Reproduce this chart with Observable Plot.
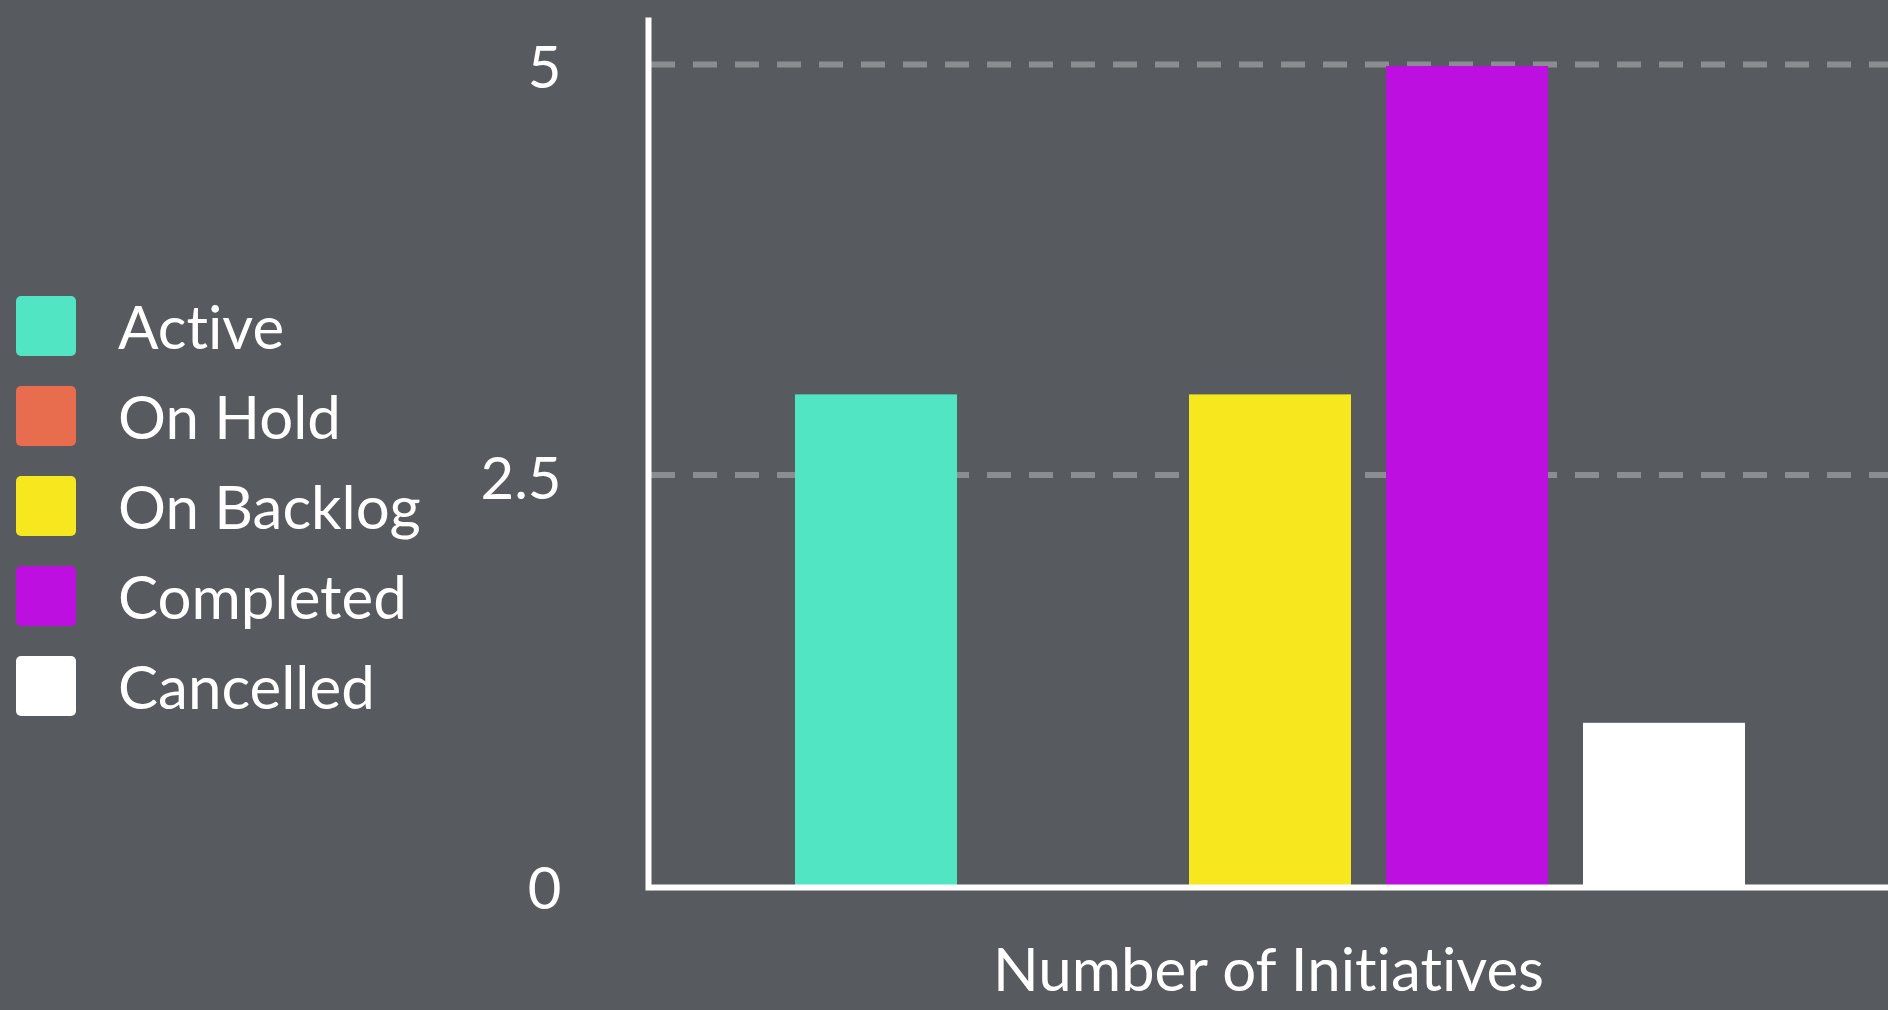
<!DOCTYPE html>
<html>
<head>
<meta charset="utf-8">
<script src="https://cdn.jsdelivr.net/npm/d3@7"></script>
<script src="https://cdn.jsdelivr.net/npm/@observablehq/plot@0.6"></script>
<style>
  html, body { margin: 0; padding: 0; background: #575b5f; }
  #wrap { position: relative; width: 1888px; height: 1010px; overflow: hidden; }
  #legend { position: absolute; left: 16px; top: 296px; font-family: Lato, sans-serif; color: #fff; font-variant-ligatures: none; font-feature-settings: "liga" 0, "clig" 0; }
  .item { display: flex; align-items: center; height: 60px; margin-bottom: 30px; }
  .sw { width: 60px; height: 60px; border-radius: 5px; margin-right: 42px; flex: none; }
  .lab { font-size: 60px; line-height: 60px; white-space: nowrap; }
  svg text { font-variant-ligatures: none; font-feature-settings: "liga" 0, "clig" 0; }
</style>
</head>
<body>
<div id="wrap"><div id="legend"></div><div id="chart"></div></div>
<script>
const categories = ["Active", "On Hold", "On Backlog", "Completed", "Cancelled"];
const counts = [3, 0, 3, 5, 1];
const colors = ["#51e5c4", "#e86d4f", "#f7e71e", "#bd0fe0", "#ffffff"];
const yTicks = [0, 2.5, 5];
const yTickLabels = ["0", "2.5", "5"];
const gridValues = [2.5, 5];
const axisTitle = "Number of Initiatives";

const data = categories.map((c, i) => ({status: c, count: counts[i]}));
const tickData = yTicks.map((v, i) => ({value: v, label: yTickLabels[i]}));

const legend = document.getElementById("legend");
categories.forEach((c, i) => {
  const it = document.createElement("div");
  it.className = "item";
  it.innerHTML = `<div class="sw" style="background:${colors[i]}"></div><div class="lab">${c}</div>`;
  legend.appendChild(it);
});

const chart = Plot.plot({
  width: 1888,
  height: 1010,
  marginLeft: 648,
  marginRight: 0,
  marginTop: 20,
  marginBottom: 123,
  style: {background: "#575b5f", color: "#ffffff", fontFamily: "Lato, sans-serif", fontSize: "58px", overflow: "visible"},
  x: {domain: categories, paddingInner: 0.18, paddingOuter: 0.727, align: 0.505, axis: null},
  y: {domain: [0, 5.28], axis: null},
  color: {domain: categories, range: colors},
  marks: [
    Plot.ruleY(gridValues, {stroke: "#8b8d90", strokeWidth: 6, strokeDasharray: "24 18", dx: 3, dy: -2}),
    Plot.barY(data, {x: "status", y: "count", fill: "status"}),
    Plot.ruleY([0], {stroke: "#ffffff", strokeWidth: 6, dx: 3}),
    Plot.frame({anchor: "left", stroke: "#ffffff", strokeWidth: 6}),
    Plot.text(tickData, {y: "value", text: "label", frameAnchor: "left", textAnchor: "end", dx: -87, dy: 3, fontSize: 58, fill: "#ffffff"}),
    Plot.text([axisTitle], {frameAnchor: "bottom", dy: 103, lineAnchor: "bottom", fontSize: 60, fill: "#ffffff"})
  ]
});
document.getElementById("chart").appendChild(chart);
</script>
</body>
</html>
